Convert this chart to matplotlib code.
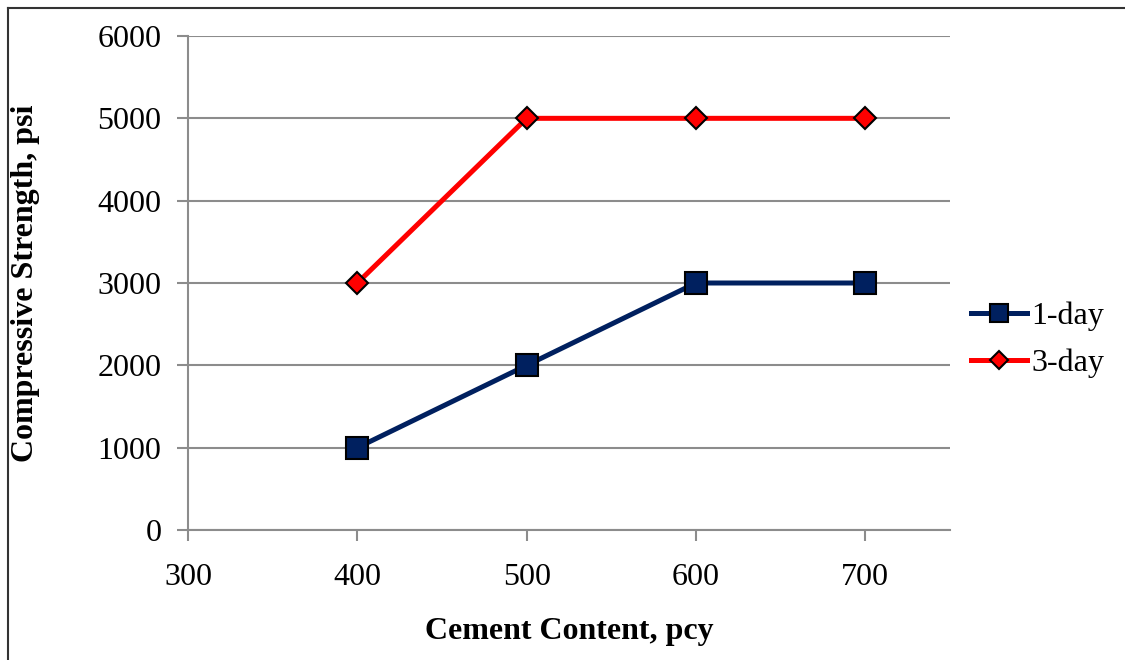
import matplotlib.pyplot as plt
from matplotlib.lines import Line2D

cement = [400, 500, 600, 700]
one_day = [1000, 2000, 3000, 3000]
three_day = [3000, 5000, 5000, 5000]
xticks = [300, 400, 500, 600, 700]
yticks = [0, 1000, 2000, 3000, 4000, 5000, 6000]

plt.rcParams['font.family'] = ['Liberation Serif', 'DejaVu Serif']

fig = plt.figure(figsize=(11.25, 6.6), dpi=100)
ax = fig.add_axes([188/1125, 1 - 530/660, (950-188)/1125, (530-36)/660])

grid_col = '#8c8c8c'
navy = '#00205f'
ax.plot(cement, one_day, color=navy, lw=3.6, marker='s', ms=16.5,
        mfc=navy, mec='black', mew=1.5, label='1-day', zorder=3)
ax.plot(cement, three_day, color='#ff0000', lw=3.6, marker='D', ms=11.5,
        mfc='#ff0000', mec='black', mew=1.5, label='3-day', zorder=3)

ax.set_xlim(300, 750)
ax.set_ylim(0, 6000)
ax.set_xticks(xticks)
ax.set_yticks(yticks)
ax.yaxis.grid(True, color=grid_col, lw=1.5)
ax.set_axisbelow(True)
for s in ['top', 'right']:
    ax.spines[s].set_visible(False)
for s in ['left', 'bottom']:
    ax.spines[s].set_color(grid_col)
    ax.spines[s].set_linewidth(1.5)
ax.tick_params(axis='both', colors=grid_col, width=1.5, length=8, labelsize=23,
               labelcolor='black')
ax.tick_params(axis='x', pad=16)
ax.tick_params(axis='y', pad=11)

ax.set_xlabel('Cement Content, pcy', fontsize=23, fontweight='bold', va='center')
ax.set_ylabel('Compressive Strength, psi', fontsize=23, fontweight='bold', va='center')
ax.xaxis.set_label_coords((569 - 188) / 762, (530 - 632) / 494)
ax.yaxis.set_label_coords((26 - 188) / 762, (530 - 283) / 494)

leg = fig.legend(loc='center left', bbox_to_anchor=(971/1125, 1 - 340/660),
                 frameon=False, fontsize=23, handlelength=1.75, handletextpad=0.15,
                 labelspacing=0.55, borderpad=0, borderaxespad=0, markerscale=0.8)

# outer chart frame (only top and left edges visible)
fig.add_artist(Line2D([8/1125, 8/1125], [0, 1 - 8/660], transform=fig.transFigure,
                      color='#333333', lw=1.5))
fig.add_artist(Line2D([8/1125, 1], [1 - 8/660, 1 - 8/660], transform=fig.transFigure,
                      color='#333333', lw=1.5))

fig.savefig('out.png', dpi=100)
